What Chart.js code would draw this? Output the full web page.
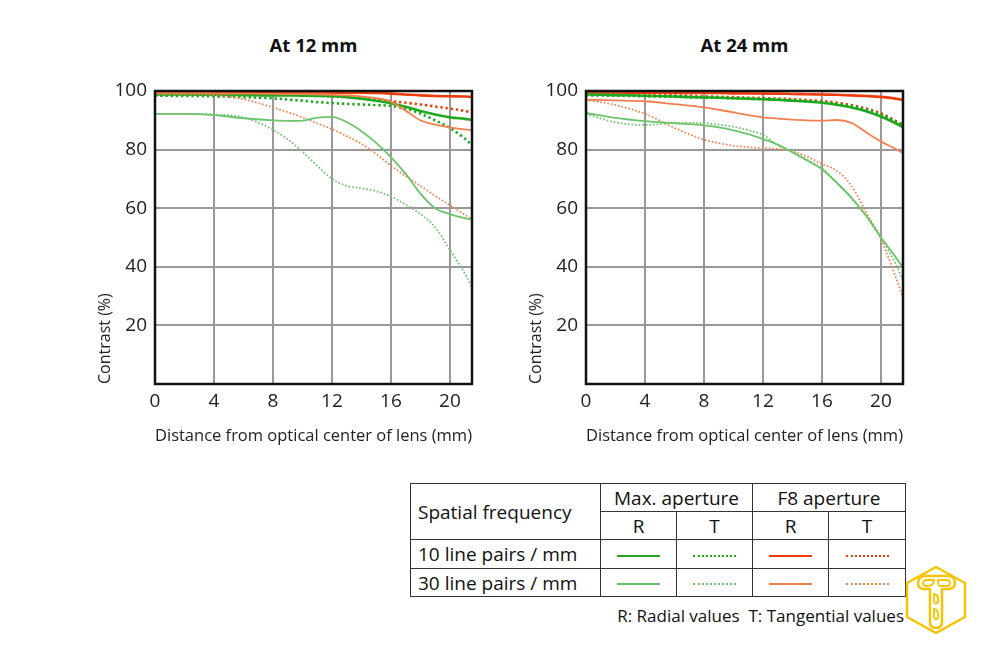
<!DOCTYPE html>
<html><head><meta charset="utf-8">
<script src="https://cdn.jsdelivr.net/npm/chart.js@4.4.1/dist/chart.umd.min.js"></script>
<style>
html,body{margin:0;padding:0;background:#fff;}
body{width:1000px;height:663px;position:relative;overflow:hidden;font-family:"Open Sans",sans-serif;color:#111;}
.cw{position:absolute;top:20px;width:400px;height:440px;}
.ttl{position:absolute;top:32px;width:317px;text-align:center;font-weight:bold;font-size:18.5px;line-height:26px;color:#111;}
#lg{position:absolute;left:410px;top:483px;border-collapse:collapse;table-layout:fixed;width:495px;font-size:19px;}
#lg td{border:1.5px solid #333;padding:0;text-align:center;line-height:22px;}
#lg td.c0{text-align:left;padding-left:7px;}
.ln{display:inline-block;width:43px;height:0;vertical-align:middle;}
#note{position:absolute;right:96px;top:604px;font-size:17px;white-space:nowrap;}
#logo{position:absolute;left:903px;top:564px;}
</style></head>
<body>
<div class="ttl" style="left:155px">At 12 mm</div>
<div class="ttl" style="left:586px">At 24 mm</div>
<div class="cw" style="left:90px"><canvas id="c1" width="400" height="440"></canvas></div>
<div class="cw" style="left:521px"><canvas id="c2" width="400" height="440"></canvas></div>
<table id="lg">
<colgroup><col style="width:190px"><col style="width:76px"><col style="width:76px"><col style="width:76px"><col style="width:77px"></colgroup>
<tr style="height:28px"><td class="c0" rowspan="2">Spatial frequency</td><td colspan="2">Max. aperture</td><td colspan="2">F8 aperture</td></tr>
<tr style="height:28px"><td>R</td><td>T</td><td>R</td><td>T</td></tr>
<tr style="height:29px"><td class="c0">10 line pairs / mm</td>
<td><span class="ln" style="border-top:2.5px solid #1fa81f"></span></td>
<td><span class="ln" style="border-top:2.5px dotted #1fa81f"></span></td>
<td><span class="ln" style="border-top:2.5px solid #ee3b0b"></span></td>
<td><span class="ln" style="border-top:2.5px dotted #ee3b0b"></span></td></tr>
<tr style="height:28px"><td class="c0">30 line pairs / mm</td>
<td><span class="ln" style="border-top:2px solid #6cc56c"></span></td>
<td><span class="ln" style="border-top:2px dotted #6cc56c"></span></td>
<td><span class="ln" style="border-top:2px solid #f2804f"></span></td>
<td><span class="ln" style="border-top:2px dotted #f2804f"></span></td></tr>
</table>
<div id="note">R: Radial values&nbsp; T: Tangential values</div>
<svg id="logo" width="66" height="72" viewBox="0 0 66 72">
<polygon points="33,3 62,19 62,53 33,69 4,53 4,19" fill="none" stroke="#f5c400" stroke-width="2.5" stroke-linejoin="round"/>
<path d="M15,19 Q15,12 23,12 L45,12 Q52,12 52,19 Q52,25 45,25 L39,25 L39,58 Q39,64 33,64 Q27,64 27,58 L27,25 L21,25 Q15,25 15,19 Z" fill="none" stroke="#f5c400" stroke-width="2.5"/>
<path d="M20,19 Q20,16 24,16 L31,16 Q31,22 24,22 Q20,22 20,19 Z M35,16 L44,16 Q47,16 47,19 Q47,22 44,22 L37,22 Q35,22 35,16 Z" fill="none" stroke="#f5c400" stroke-width="1.8"/>
<path d="M31,30 Q36,31 35,38 Q31,42 31,36 Z M31,45 Q36,46 35,54 Q31,58 31,51 Z" fill="none" stroke="#f5c400" stroke-width="1.8"/>
</svg>
<script>
// distance from optical center (mm)
const xs = [0,2,4,6,8,9,10,11,12,13,14,15,16,17,18,19,20,21,21.5];
const xTicks = [0,4,8,12,16,20];
const yTicks = [20,40,60,80,100];

// At 12 mm
const w12_maxR10 = [98.8,98.8,98.7,98.6,98.5,98.5,98.4,98.3,98.2,97.9,97.4,96.7,95.8,94.6,93.2,92.0,91.0,90.5,90.2];
const w12_maxT10 = [98.4,98.3,98.2,97.9,97.5,97.1,96.7,96.2,95.9,95.6,95.4,95.2,94.9,94.0,92.3,90.0,87.4,83.8,81.5];
const w12_f8R10  = [99.6,99.6,99.6,99.6,99.5,99.5,99.5,99.5,99.5,99.4,99.4,99.3,99.1,98.8,98.5,98.3,98.2,98.1,98.0];
const w12_f8T10  = [99.2,99.2,99.2,99.1,99.0,98.8,98.6,98.4,98.2,97.9,97.5,97.0,96.5,96.0,95.4,94.7,94.0,93.2,92.7];
const w12_maxR30 = [92.2,92.2,91.8,90.7,90.0,89.8,89.9,90.9,91.2,89.4,86.3,82.3,77.4,71.7,65.0,60.0,58.0,56.6,56.1];
const w12_maxT30 = [92.2,92.2,92.0,91.0,86.8,83.5,79.3,74.5,70.0,67.6,66.8,65.8,64.0,61.2,58.0,53.5,45.8,37.8,33.2];
const w12_f8R30  = [99.3,99.3,99.2,99.1,99.0,98.9,98.9,98.8,98.7,98.5,98.2,97.6,96.4,93.3,90.0,88.5,87.6,86.9,86.6];
const w12_f8T30  = [99.0,98.9,98.6,97.2,94.4,92.8,91.0,89.0,87.0,84.6,82.0,78.5,74.5,71.0,67.6,64.2,61.0,57.8,56.2];

// At 24 mm
const w24_maxR10 = [98.8,98.6,98.4,98.1,97.8,97.7,97.5,97.4,97.2,97.0,96.7,96.4,96.0,95.3,94.4,93.1,91.3,89.0,87.6];
const w24_maxT10 = [98.5,98.4,98.2,98.0,97.8,97.7,97.5,97.4,97.2,97.0,96.8,96.5,96.2,95.6,94.8,93.6,92.0,89.6,88.2];
const w24_f8R10  = [99.5,99.5,99.4,99.4,99.3,99.3,99.2,99.2,99.1,99.1,99.0,98.9,98.8,98.7,98.5,98.3,98.0,97.4,96.9];
const w24_f8T10  = [99.0,98.9,98.7,98.5,98.2,98.0,97.9,97.7,97.6,97.4,97.2,96.9,96.6,96.0,95.2,94.0,92.4,89.8,88.5];
const w24_maxR30 = [92.5,90.8,89.7,89.0,88.3,87.6,86.6,85.3,83.6,81.7,79.0,76.3,73.3,68.7,63.6,57.4,50.1,43.3,39.7];
const w24_maxT30 = [92.2,89.3,88.4,89.1,89.0,88.5,87.8,86.6,85.0,81.6,79.4,76.5,73.6,68.8,63.4,57.2,49.9,41.0,35.4];
const w24_f8R30  = [97.0,96.8,96.5,95.5,94.4,93.6,92.7,91.8,91.0,90.6,90.2,90.0,89.9,90.1,89.1,85.9,82.8,80.2,78.8];
const w24_f8T30  = [97.0,95.2,92.2,87.4,83.4,82.2,81.3,80.8,80.5,80.2,79.4,77.6,75.1,72.8,67.7,58.6,49.6,36.5,29.7];

const FONT = '"Open Sans", sans-serif';
const C = {g10:'#1fa81f', g30:'#6cc56c', o10:'#ee3b0b', o30:'#f2804f'};

function pts(arr){ return xs.map((x,i)=>({x:x, y:arr[i]})); }
function ds(arr, color, w, dotted){
  return {data:pts(arr), borderColor:color, borderWidth:w, borderDash: dotted ? [w*0.9, w*1.1] : [],
    pointRadius:0, fill:false, cubicInterpolationMode:'monotone', showLine:true};
}
function sets(s){
  return [
    ds(s.maxT30, C.g30, 1.8, true),
    ds(s.maxR30, C.g30, 1.8, false),
    ds(s.f8T30, C.o30, 1.8, true),
    ds(s.f8R30, C.o30, 1.8, false),
    ds(s.maxT10, C.g10, 2.6, true),
    ds(s.maxR10, C.g10, 2.6, false),
    ds(s.f8T10, C.o10, 2.6, true),
    ds(s.f8R10, C.o10, 2.6, false)
  ];
}
const frame = {id:'frame', afterDatasetsDraw(c){
  const a=c.chartArea, x=c.ctx; x.save(); x.strokeStyle='#111'; x.lineWidth=2.5;
  x.strokeRect(a.left, a.top, a.right-a.left, a.bottom-a.top); x.restore(); }};

function make(id, s){
  new Chart(document.getElementById(id), {
    type:'scatter',
    data:{datasets:sets(s)},
    options:{
      responsive:false, animation:false, devicePixelRatio:1,
      layout:{padding:{left:0, right:18, top:71, bottom:14}},
      plugins:{legend:{display:false}, tooltip:{enabled:false}, title:{display:false}},
      scales:{
        x:{type:'linear', min:0, max:21.5,
          afterBuildTicks:(sc)=>{ sc.ticks = xTicks.map(v=>({value:v})); },
          afterFit:(sc)=>{ sc.height = 62; },
          ticks:{font:{family:FONT, size:19}, color:'#222', padding:6, maxRotation:0},
          grid:{color:'#999', lineWidth:2, drawTicks:false},
          border:{display:false},
          title:{display:true, text:'Distance from optical center of lens (mm)', color:'#222',
            font:{family:FONT, size:17}, padding:{top:0, bottom:0}}},
        y:{min:0, max:100,
          afterBuildTicks:(sc)=>{ sc.ticks = [0].concat(yTicks).map(v=>({value:v})); },
          afterFit:(sc)=>{ sc.width = 65; },
          ticks:{font:{family:FONT, size:19}, color:'#222', padding:8,
            callback:(v)=> v===0 ? '' : String(v)},
          grid:{color:'#999', lineWidth:2, drawTicks:false},
          border:{display:false},
          title:{display:true, text:'Contrast (%)', align:'start', color:'#222',
            font:{family:FONT, size:16}, padding:{top:6, bottom:0}}}
      }
    },
    plugins:[frame]
  });
}
make('c1', {maxR10:w12_maxR10, maxT10:w12_maxT10, f8R10:w12_f8R10, f8T10:w12_f8T10,
  maxR30:w12_maxR30, maxT30:w12_maxT30, f8R30:w12_f8R30, f8T30:w12_f8T30});
make('c2', {maxR10:w24_maxR10, maxT10:w24_maxT10, f8R10:w24_f8R10, f8T10:w24_f8T10,
  maxR30:w24_maxR30, maxT30:w24_maxT30, f8R30:w24_f8R30, f8T30:w24_f8T30});
</script>
</body></html>
